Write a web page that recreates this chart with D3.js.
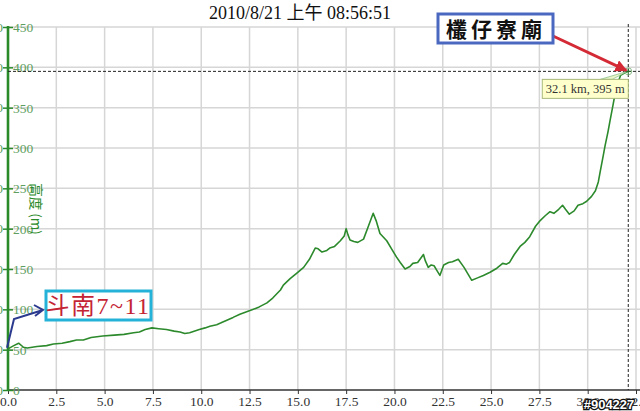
<!DOCTYPE html>
<html><head><meta charset="utf-8">
<script src="https://cdn.jsdelivr.net/npm/d3@7"></script>
<style>
html,body{margin:0;padding:0;background:#fff;overflow:hidden;}
svg{display:block;}
</style></head>
<body><svg id="c" width="640" height="411"></svg>
<script>
const titleText = "2010/8/21 上午 08:56:51";
const xTicks = [0, 2.5, 5, 7.5, 10, 12.5, 15, 17.5, 20, 22.5, 25, 27.5, 30, 32.5];
const yTicks = [0, 50, 100, 150, 200, 250, 300, 350, 400, 450];
const distanceKm = [0,0.3,0.55,0.8,1.0,1.5,2.0,2.35,2.8,3.2,3.55,3.9,4.3,4.9,5.5,6.0,6.5,6.8,7.1,7.45,7.8,8.2,8.6,8.9,9.15,9.4,9.9,10.2,10.45,10.8,11.0,11.65,12.0,12.35,12.7,13.0,13.4,13.7,14.1,14.25,14.6,14.95,15.3,15.6,15.9,16.05,16.25,16.5,16.65,16.9,17.2,17.4,17.5,17.6,17.7,17.9,18.1,18.4,18.65,18.9,19.05,19.25,19.6,19.85,20.1,20.3,20.55,20.8,20.95,21.2,21.5,21.6,21.75,21.9,22.05,22.2,22.35,22.55,22.8,23.0,23.3,23.6,24.0,24.3,24.6,24.95,25.3,25.6,25.8,25.95,26.2,26.5,26.75,27.0,27.3,27.5,27.8,28.05,28.25,28.5,28.7,28.85,29.05,29.3,29.5,29.75,29.95,30.2,30.4,30.55,30.65,30.8,30.9,31.05,31.15,31.3,31.4,31.55,31.7,31.9,32.1];
const elevationM = [51,55,58,53,52,54,55,57,58,60,62,62,65,67,68,69,71,72,75,77,76,75,73,72,70,71,75,77,79,81,83,90,94,97,100,103,108,114,124,130,138,145,152,162,176,175,171,173,176,178,185,191,200,192,186,184,183,187,203,219,210,194,185,175,165,158,150,153,157,158,168,160,152,155,154,148,142,155,158,159,162,152,136,139,142,146,151,157,156,158,168,178,183,190,203,209,216,221,219,224,229,224,218,222,229,231,234,240,247,258,271,290,303,320,333,352,365,380,390,393,395];
const markerKm = 32.1, markerM = 395;
const markerLabel = "32.1 km, 395 m";
const startLabel = "斗南7~11";
const endLabel = "欉仔寮廟";
const yTitle = "高度 (m)";
const xTitle = "距離 (公里)";
const watermark = "#904227";

const svg = d3.select("#c");
const x = d3.scaleLinear().domain([0, 32.5]).range([8, 636]);
const y = d3.scaleLinear().domain([0, 450]).range([390, 27]);
const serif = "'Liberation Serif','Times New Roman',serif";
const green = "#2a8a2a";

// grid
const grid = svg.append("g");
grid.selectAll("line.h").data(yTicks.filter(d => d > 0)).join("line")
  .attr("x1", x(0)).attr("x2", 640).attr("y1", d => y(d)).attr("y2", d => y(d))
  .attr("stroke", "#d6d6d6").attr("stroke-width", 1.5);
grid.selectAll("line.v").data(xTicks.filter(d => d > 0)).join("line")
  .attr("x1", d => x(d)).attr("x2", d => x(d)).attr("y1", y(450)).attr("y2", y(0))
  .attr("stroke", "#d6d6d6").attr("stroke-width", 1.5);

// title
svg.append("text").attr("x", 300).attr("y", 19).attr("text-anchor", "middle")
  .attr("font-family", serif + ",'Noto Sans CJK TC'").attr("font-size", 18).attr("fill", "#111")
  .text(titleText);

// x axis
const xAxis = d3.axisBottom(x).tickValues(xTicks).tickFormat(d3.format(".1f")).tickSize(4).tickPadding(2);
const gx = svg.append("g").attr("transform", `translate(0,${y(0)})`).call(xAxis);
gx.select(".domain").remove();
gx.append("line").attr("x1", x(0)).attr("x2", 640).attr("y1", 0).attr("y2", 0).attr("stroke", "#333").attr("stroke-width", 1.6);
gx.selectAll(".tick line").attr("stroke", "#333");
gx.selectAll(".tick text").attr("font-family", serif).attr("font-size", 13.5).attr("fill", "#333");

svg.append("text").attr("x", 303).attr("y", 423).attr("text-anchor", "middle")
  .attr("font-family", "'Noto Sans CJK TC'").attr("font-size", 13).attr("fill", "#444").text(xTitle);

// y axis
const yAxis = d3.axisRight(y).tickValues(yTicks).tickSize(5).tickPadding(0);
const gy = svg.append("g").attr("transform", `translate(${x(0)},0)`).call(yAxis);
gy.select(".domain").remove();
gy.append("line").attr("x1", 0).attr("x2", 0).attr("y1", y(450) - 1).attr("y2", y(0)).attr("stroke", green).attr("stroke-width", 2.6);
gy.selectAll(".tick line").attr("x1", -5).attr("x2", 5).attr("stroke", green).attr("stroke-width", 1.5);
gy.selectAll(".tick text").attr("font-family", serif).attr("font-size", 13.5).attr("fill", "#5e9e5e")
  .attr("x", 5).attr("dy", "0.34em");
// cut-off labels of a neighbouring axis at the left edge
svg.append("g").selectAll("text").data(yTicks).join("text")
  .attr("x", 3).attr("y", d => y(d)).attr("dy", "0.34em").attr("text-anchor", "end")
  .attr("font-family", serif).attr("font-size", 13.5).attr("fill", "#5e9e5e").text(d => d);

svg.append("text").attr("transform", `translate(37,209) rotate(90)`).attr("text-anchor", "middle")
  .attr("dominant-baseline", "central")
  .attr("font-family", "'Noto Sans CJK TC'").attr("font-size", 13.5).attr("fill", green).text(yTitle);

// reference dashed lines
svg.append("line").attr("x1", x(0)).attr("x2", 640).attr("y1", y(markerM)).attr("y2", y(markerM))
  .attr("stroke", "#222").attr("stroke-width", 1).attr("stroke-dasharray", "3,2");
svg.append("line").attr("x1", x(markerKm)).attr("x2", x(markerKm)).attr("y1", 24).attr("y2", y(0))
  .attr("stroke", "#222").attr("stroke-width", 1).attr("stroke-dasharray", "3,2");

// profile line
const pts = distanceKm.map((d, i) => [d, elevationM[i]]);
svg.append("path").datum(pts)
  .attr("d", d3.line().x(d => x(d[0])).y(d => y(d[1])))
  .attr("fill", "none").attr("stroke", "#2c8a2c").attr("stroke-width", 1.6).attr("stroke-linejoin", "round");

// marker
const mx = x(markerKm), my = y(markerM);
svg.append("polygon").attr("points", `${mx - 28},${my + 8} ${mx - 1},${my} ${mx - 16},${my + 8}`)
  .attr("fill", "#eaf5c8").attr("stroke", "#8fc08f").attr("stroke-width", 0.8);
svg.append("circle").attr("cx", mx).attr("cy", my).attr("r", 3.5).attr("fill", "none").attr("stroke", "#8fbf8f").attr("stroke-width", 1);
svg.append("path").attr("d", `M${mx - 3},${my}H${mx + 3}M${mx},${my - 3}V${my + 3}`).attr("stroke", "#2a6a2a").attr("stroke-width", 1);
svg.append("rect").attr("x", mx - 86).attr("y", my + 8).attr("width", 86).attr("height", 19)
  .attr("fill", "#ffffcc").attr("stroke", "#a8b878").attr("stroke-width", 1);
svg.append("text").attr("x", mx - 43).attr("y", my + 22).attr("text-anchor", "middle")
  .attr("font-family", serif).attr("font-size", 12.5).attr("fill", "#333").text(markerLabel);

// red arrow + end label
svg.append("defs").html(`
<marker id="ra" viewBox="0 0 10 10" refX="9" refY="5" markerWidth="4" markerHeight="4" orient="auto"><path d="M0,0L10,5L0,10z" fill="#d42a36"/></marker>`);
svg.append("line").attr("x1", 553).attr("y1", 36).attr("x2", mx - 2).attr("y2", my - 1)
  .attr("stroke", "#d42a36").attr("stroke-width", 3).attr("marker-end", "url(#ra)");
svg.append("rect").attr("x", 438).attr("y", 14).attr("width", 115).attr("height", 29)
  .attr("fill", "#fff").attr("stroke", "#4a68c0").attr("stroke-width", 3);
svg.append("text").attr("x", 496).attr("y", 37).attr("text-anchor", "middle")
  .attr("font-family", "'Noto Sans CJK TC'").attr("font-weight", 700).attr("font-size", 21)
  .attr("letter-spacing", 4).attr("fill", "#111").text(endLabel);

// blue arrow + start label
svg.append("path").attr("d", `M${x(0) - 1},${y(51) - 1}L14,319L43,310M34,305L43,310L35,316`)
  .attr("fill", "none").attr("stroke", "#2b3a8e").attr("stroke-width", 2);
svg.append("rect").attr("x", 46).attr("y", 291).attr("width", 105).attr("height", 29)
  .attr("fill", "#fff").attr("stroke", "#24b2d8").attr("stroke-width", 3);
svg.append("text").attr("x", 98).attr("y", 314).attr("text-anchor", "middle")
  .attr("font-family", serif + ",'Noto Sans CJK TC'").attr("font-size", 24).attr("letter-spacing", 1.5)
  .attr("fill", "#c42434").text(startLabel);

// watermark
svg.append("text").attr("x", 609).attr("y", 409).attr("text-anchor", "middle")
  .attr("font-family", "'Liberation Sans',Arial,sans-serif").attr("font-weight", 700).attr("font-size", 13)
  .attr("fill", "#fff").attr("stroke", "#111").attr("stroke-width", 2.5).attr("paint-order", "stroke").text(watermark);
</script></body></html>
